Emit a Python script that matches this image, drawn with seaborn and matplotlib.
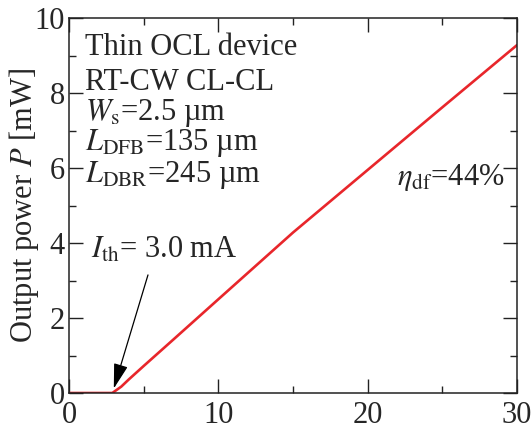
import numpy as np
import pandas as pd
import matplotlib
matplotlib.use("Agg")
import matplotlib.pyplot as plt
import seaborn as sns

# Data
current_mA = [0, 1, 2, 2.9, 3.5, 4, 5, 7, 10, 15, 20, 25, 30]
power_mW = [0, 0, 0, 0, 0.17, 0.36, 0.72, 1.43, 2.5, 4.28, 5.95, 7.62, 9.28]

info_lines = ["Thin OCL device", "RT-CW CL-CL",
              r"$W_{\rm s}$=2.5 µm", r"$L_{\rm DFB}$=135 µm", r"$L_{\rm DBR}$=245 µm"]
info_y = [9.01, 8.07, 7.28, 6.48, 5.64]

df = pd.DataFrame({"I": current_mA, "P": power_mW})

sns.set_style("ticks")
plt.rcParams['font.family'] = ['Liberation Serif', 'DejaVu Serif']
plt.rcParams['mathtext.fontset'] = 'stix'

fig = plt.figure(figsize=(5.32, 4.25), dpi=100)
ax = fig.add_axes([0.1297, 0.0753, 0.842, 0.882])

sns.lineplot(data=df, x="I", y="P", color="#e8262b", linewidth=1.9, ax=ax)

ax.set_xlim(0, 30)
ax.set_ylim(0, 10)
ax.set_xticks([0, 10, 20, 30])
ax.set_xticks([5, 15, 25], minor=True)
ax.set_yticks([0, 2, 4, 6, 8, 10])
ax.set_yticks([1, 3, 5, 7, 9], minor=True)
ax.tick_params(which='both', direction='in', top=True, right=True,
               labelsize=22, width=1.0, color='#222222')
ax.tick_params(which='major', length=10)
ax.tick_params(which='minor', length=5)
ax.tick_params(axis='x', which='major', pad=6)
ax.tick_params(axis='y', which='major', pad=3)
for sp in ax.spines.values():
    sp.set_visible(True)
    sp.set_linewidth(1.1)
    sp.set_color('#222222')

ax.set_xlabel("")
ax.set_ylabel(r"Output power $P$ [mW]", fontsize=22)
ax.yaxis.set_label_coords(-0.062, 0.5)

for txt, yy in zip(info_lines, info_y):
    ax.text(1.07, yy, txt, fontsize=22, ha='left', va='baseline')

ax.text(21.97, 5.55, r"$\eta_{\rm df}$=44%", fontsize=22, ha='left', va='baseline')

ax.text(1.45, 3.6, r"$I_{\rm th}$= 3.0 mA", fontsize=22, ha='left', va='baseline')
ax.annotate("", xy=(3.0, 0.12), xytext=(5.29, 3.15),
            arrowprops=dict(arrowstyle='-|>,head_length=0.7,head_width=0.2',
                            color='black', lw=0.9, mutation_scale=22,
                            shrinkA=0, shrinkB=0))

fig.savefig("out.png", dpi=100)
